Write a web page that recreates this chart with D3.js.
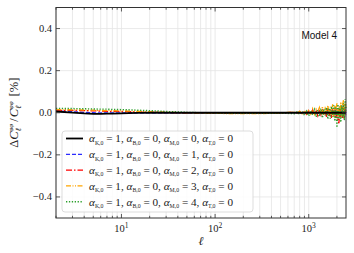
<!DOCTYPE html>
<html>
<head>
<meta charset="utf-8">
<script src="https://cdn.jsdelivr.net/npm/d3@7"></script>
<style>
  body { margin: 0; background: #fff; }
  svg { display: block; }
</style>
</head>
<body>
<script>
// multipole values
let ellLow = [2, 3, 4, 5, 6, 7, 8, 10, 12, 15, 20, 25, 30, 40, 50, 60, 80, 100, 150, 200, 300, 400, 500, 600];
let ellHigh = [700, 750, 800, 850, 900, 950, 1000, 1050, 1100, 1150, 1200, 1250, 1300, 1350, 1400, 1450, 1500,
    1550, 1600, 1650, 1700, 1750, 1800, 1850, 1900, 1950, 2000, 2050, 2100, 2150, 2200, 2250, 2300, 2350, 2400, 2450, 2500];
let ell = ellLow.concat(ellHigh);

// relative difference [%] per model
let seriesM0 = [0.006, 0.001, -0.003, -0.005, -0.005, -0.004, -0.004, -0.003, -0.002, -0.001, 0, 0, 0, 0, 0, 0, 0, 0, 0, 0, 0, 0, 0, 0,
    0, 0, 0, 0, 0, 0, 0, 0, 0, 0, 0, 0, 0, 0, 0, 0, 0, 0, 0, 0, 0, 0, 0, 0, 0, 0, 0, 0, 0, 0, 0, 0, 0, 0, 0, 0, 0];
let seriesM1 = [0.009, 0.005, 0.002, 0, -0.001, -0.001, -0.001, -0.001, 0, 0, 0, 0, 0, 0, 0, 0, 0, 0, 0, 0, 0, 0, -0.001, 0.001,
    0.001, -0.002, 0.002, -0.002, 0.003, -0.003, 0.003, -0.002, 0.004, -0.004, 0.003, -0.004, 0.005, -0.003, 0.005, -0.005, 0.004,
    -0.006, 0.006, -0.004, 0.005, -0.006, 0.007, -0.005, 0.006, -0.007, 0.005, -0.006, 0.008, -0.005, 0.006, -0.008, 0.007, -0.006, 0.008, -0.007, 0.004];
let seriesM2 = [0.012, 0.011, 0.010, 0.009, 0.008, 0.007, 0.007, 0.006, 0.005, 0.004, 0.003, 0.002, 0.001, 0, 0, -0.001, -0.001, -0.002, -0.002, -0.002, -0.002, -0.002, -0.001, 0.001,
    0.002, -0.004, 0.005, -0.006, 0.004, -0.008, 0.010, -0.006, 0.012, -0.010, 0.008, -0.014, 0.015, -0.010, 0.018, -0.012, 0.010,
    -0.020, 0.022, -0.015, 0.020, -0.025, 0.018, -0.020, 0.028, -0.030, 0.020, -0.035, -0.050, 0.025, -0.020, 0.030, -0.025, 0.035, -0.030, 0.020, -0.010];
let seriesM3 = [0.015, 0.014, 0.013, 0.012, 0.011, 0.010, 0.010, 0.009, 0.008, 0.007, 0.005, 0.004, 0.003, 0.001, 0, -0.001, -0.002, -0.003, -0.004, -0.004, -0.004, -0.003, -0.002, 0.002,
    0.004, -0.003, 0.008, -0.005, 0.010, -0.004, 0.015, -0.006, 0.020, -0.008, 0.018, 0.005, 0.025, -0.010, 0.030, -0.012, 0.022,
    0.008, 0.035, -0.015, 0.028, -0.010, 0.040, -0.020, 0.032, 0.010, 0.045, -0.025, 0.030, -0.015, 0.050, -0.020, 0.038, 0.060, -0.018, 0.045, 0.020];
let seriesM4 = [0.021, 0.020, 0.019, 0.018, 0.017, 0.017, 0.016, 0.015, 0.014, 0.012, 0.010, 0.008, 0.006, 0.004, 0.002, 0.001, 0, -0.001, -0.002, -0.003, -0.003, -0.003, -0.002, -0.003,
    -0.005, 0.004, -0.008, 0.006, -0.012, 0.008, -0.015, 0.010, -0.010, 0.015, -0.020, 0.012, -0.018, 0.020, -0.025, 0.018, -0.012,
    0.025, -0.030, 0.022, -0.028, 0.030, -0.020, 0.035, -0.040, 0.028, -0.070, 0.040, -0.030, 0.030, -0.045, 0.035, -0.020, 0.045, -0.035, 0.065, 0.010];

let alphaM = [0, 1, 2, 3, 4];
let yTicks = [-0.4, -0.2, 0.0, 0.2, 0.4];
let xTicks = [10, 100, 1000];

let allSeries = [seriesM0, seriesM1, seriesM2, seriesM3, seriesM4];
let colors = ["#000000", "#2b2bff", "#ff0000", "#ffa500", "#2ca02c"];
let dashes = [null, "4,2", "6,2,1.5,2", "5,1.5,1,1.5,1,1.5", "1.3,1.6"];
let widths = [1.8, 1.3, 1.3, 1.3, 1.4];

let W = 354, H = 253;
let margin = { top: 7.5, right: 8, bottom: 35, left: 56 };

let svg = d3.select("body").append("svg")
    .attr("width", W)
    .attr("height", H);

let x = d3.scaleLog()
    .domain([2, 2500])
    .range([margin.left, W - margin.right]);

let y = d3.scaleLinear()
    .domain([-0.5, 0.5])
    .range([H - margin.bottom, margin.top]);

let serif = "'Liberation Serif', 'DejaVu Serif', serif";

// all log ticks inside the domain
let minorTicks = [];
[1, 10, 100, 1000].forEach(d => {
    for (let k = 1; k <= 9; k++) {
        let v = d * k;
        if (v >= 2 && v <= 2500) minorTicks.push(v);
    }
});

// grid
let grid = svg.append("g").attr("stroke", "#e4e4e4").attr("stroke-width", 0.8);
minorTicks.forEach(v => {
    grid.append("line")
        .attr("x1", x(v)).attr("x2", x(v))
        .attr("y1", y(-0.5)).attr("y2", y(0.5));
});
yTicks.forEach(v => {
    grid.append("line")
        .attr("x1", x(2)).attr("x2", x(2500))
        .attr("y1", y(v)).attr("y2", y(v));
});

// curves
let line = d3.line()
    .x((d, i) => x(ell[i]))
    .y(d => y(d));

let drawOrder = [1, 2, 3, 4, 0];
drawOrder.forEach(i => {
    svg.append("path")
        .datum(allSeries[i])
        .attr("d", line)
        .attr("fill", "none")
        .attr("stroke", colors[i])
        .attr("stroke-width", widths[i])
        .attr("stroke-dasharray", dashes[i]);
});

// frame
svg.append("rect")
    .attr("x", x(2)).attr("y", y(0.5))
    .attr("width", x(2500) - x(2)).attr("height", y(-0.5) - y(0.5))
    .attr("fill", "none")
    .attr("stroke", "#333")
    .attr("stroke-width", 1);

// inward ticks on all four sides
let ticks = svg.append("g").attr("stroke", "#333").attr("stroke-width", 0.8);
minorTicks.forEach(v => {
    let len = xTicks.includes(v) ? 4 : 2.2;
    ticks.append("line").attr("x1", x(v)).attr("x2", x(v))
        .attr("y1", y(-0.5)).attr("y2", y(-0.5) - len);
    ticks.append("line").attr("x1", x(v)).attr("x2", x(v))
        .attr("y1", y(0.5)).attr("y2", y(0.5) + len);
});
yTicks.forEach(v => {
    ticks.append("line").attr("x1", x(2)).attr("x2", x(2) + 4)
        .attr("y1", y(v)).attr("y2", y(v));
    ticks.append("line").attr("x1", x(2500)).attr("x2", x(2500) - 4)
        .attr("y1", y(v)).attr("y2", y(v));
});

// y tick labels
yTicks.forEach(v => {
    svg.append("text")
        .attr("x", x(2) - 4)
        .attr("y", y(v) + 3.5)
        .attr("text-anchor", "end")
        .attr("font-family", serif)
        .attr("font-size", 10.5)
        .attr("fill", "#222")
        .text(d3.format(".1f")(v).replace("-", "\u2212"));
});

// x tick labels
xTicks.forEach(v => {
    let t = svg.append("text")
        .attr("x", x(v))
        .attr("y", 232)
        .attr("text-anchor", "middle")
        .attr("font-family", serif)
        .attr("font-size", 10.5)
        .attr("fill", "#222");
    t.append("tspan").text("10");
    t.append("tspan").attr("dy", -4).attr("font-size", 7.5).text(Math.round(Math.log10(v)));
});

// axis labels
svg.append("text")
    .attr("x", (x(2) + x(2500)) / 2)
    .attr("y", 245)
    .attr("text-anchor", "middle")
    .attr("font-family", serif)
    .attr("font-style", "italic")
    .attr("font-size", 12)
    .attr("fill", "#222")
    .text("\u2113");

let yl = svg.append("text")
    .attr("transform", `translate(18,${(y(0.5) + y(-0.5)) / 2}) rotate(-90)`)
    .attr("text-anchor", "middle")
    .attr("font-family", serif)
    .attr("font-size", 12.5)
    .attr("fill", "#222");
yl.append("tspan").text("\u0394");
yl.append("tspan").attr("font-style", "italic").text("C");
yl.append("tspan").attr("font-size", 8).attr("dy", 3).attr("font-style", "italic").text("\u2113");
yl.append("tspan").attr("font-size", 7).attr("dy", -8.5).attr("dx", -3.5).attr("font-style", "italic").text("\u03c6\u03c6");
yl.append("tspan").attr("dy", 5.5).attr("dx", 2).text("/");
yl.append("tspan").attr("dx", 1).attr("font-style", "italic").text("C");
yl.append("tspan").attr("font-size", 8).attr("dy", 3).attr("font-style", "italic").text("\u2113");
yl.append("tspan").attr("font-size", 7).attr("dy", -8.5).attr("dx", -3.5).attr("font-style", "italic").text("\u03c6\u03c6");
yl.append("tspan").attr("dy", 5.5).attr("dx", 5).text("[%]");

// model label
svg.append("text")
    .attr("x", 337)
    .attr("y", 39)
    .attr("text-anchor", "end")
    .attr("font-family", "'Liberation Sans', Arial, sans-serif")
    .attr("font-size", 10)
    .attr("fill", "#111")
    .text("Model 4");

// legend
let legend = svg.append("g");
legend.append("rect")
    .attr("x", 62).attr("y", 131)
    .attr("width", 191).attr("height", 81)
    .attr("rx", 3)
    .attr("fill", "white").attr("fill-opacity", 0.85)
    .attr("stroke", "#d4d4d4").attr("stroke-width", 0.8);

alphaM.forEach((m, i) => {
    let cy = 138.5 + i * 15.8;
    legend.append("line")
        .attr("x1", 66).attr("x2", 83)
        .attr("y1", cy).attr("y2", cy)
        .attr("stroke", colors[i])
        .attr("stroke-width", widths[i])
        .attr("stroke-dasharray", dashes[i]);

    let t = legend.append("text")
        .attr("x", 89)
        .attr("y", cy + 3.8)
        .attr("font-family", serif)
        .attr("font-size", 11.2)
        .attr("fill", "#222");
    let parts = [["K,0", 1], ["B,0", 0], ["M,0", m], ["T,0", 0]];
    parts.forEach((p, j) => {
        t.append("tspan").attr("font-style", "italic").text("\u03b1");
        t.append("tspan").attr("font-size", 5.8).attr("dy", 2.5).text(p[0]);
        t.append("tspan").attr("dy", -2.5).text(" = " + p[1] + (j < 3 ? ", " : ""));
    });
});
</script>
</body>
</html>
